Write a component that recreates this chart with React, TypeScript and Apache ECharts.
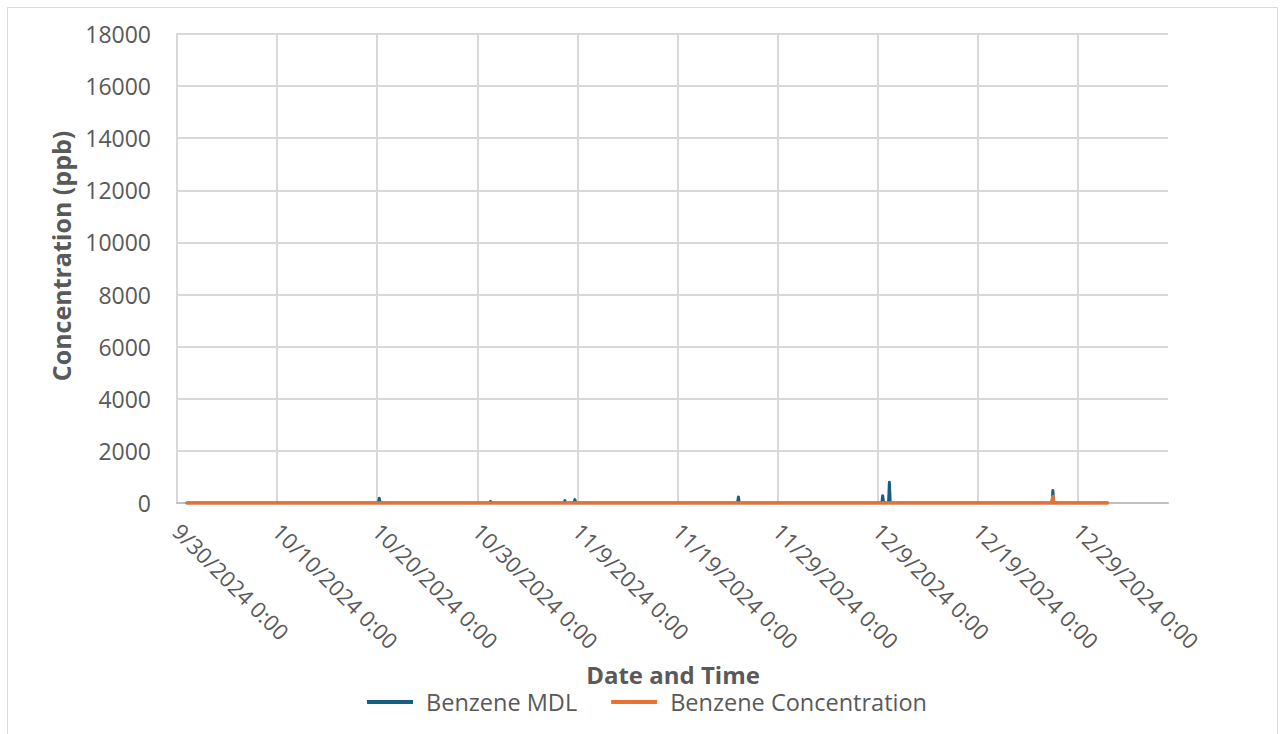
import React, { useEffect, useRef } from "react";
import * as echarts from "echarts";

// Axis origin: day offsets on the x axis are counted from 9/30/2024 0:00
const ORIGIN = "2024-09-30 00:00";
const X_MAX_DAYS = 99;
const X_STEP_DAYS = 10;
const Y_MAX = 18000;
const Y_STEP = 2000;

// Benzene MDL (ppb)
const mdlTimes = [
  "2024-10-01 00:00", "2024-10-20 03:00", "2024-10-20 05:00", "2024-10-20 07:00",
  "2024-10-31 06:00", "2024-10-31 08:00", "2024-10-31 10:00",
  "2024-11-07 16:00", "2024-11-07 18:00", "2024-11-07 20:00",
  "2024-11-08 16:00", "2024-11-08 18:00", "2024-11-08 20:00",
  "2024-11-25 00:00", "2024-11-25 02:00", "2024-11-25 04:00",
  "2024-12-09 10:00", "2024-12-09 12:00", "2024-12-09 14:00",
  "2024-12-10 02:00", "2024-12-10 04:00", "2024-12-10 06:00",
  "2024-12-26 10:00", "2024-12-26 12:00", "2024-12-26 14:00",
  "2024-12-31 23:00",
];
const mdlValues = [
  3, 3, 180, 3,
  3, 60, 3,
  3, 90, 3,
  3, 130, 3,
  3, 230, 3,
  3, 280, 3,
  3, 800, 3,
  3, 480, 3,
  3,
];

// Benzene Concentration (ppb)
const concTimes = [
  "2024-10-01 00:00", "2024-12-26 10:00", "2024-12-26 12:00", "2024-12-26 14:00",
  "2024-12-31 23:00",
];
const concValues = [0, 0, 250, 0, 0];

const seriesNames = ["Benzene MDL", "Benzene Concentration"];
const seriesColors = ["#156082", "#E97132"];

const xTitle = "Date and Time";
const yTitle = "Concentration (ppb)";

const toUtc = (s: string) => Date.parse(s.replace(" ", "T") + ":00Z");
const toDays = (s: string) => (toUtc(s) - toUtc(ORIGIN)) / 86400000;

const dayLabel = (d: number) => {
  const dt = new Date(toUtc(ORIGIN) + d * 86400000);
  return `${dt.getUTCMonth() + 1}/${dt.getUTCDate()}/${dt.getUTCFullYear()} 0:00`;
};

const FONT = "'Open Sans', sans-serif";
const GRAY_TEXT = "#595959";

export default function App() {
  const ref = useRef<HTMLDivElement>(null);

  useEffect(() => {
    if (!ref.current) return;
    const chart = echarts.init(ref.current, undefined, { renderer: "svg" });

    const mdlData = mdlTimes.map((t, i) => [toDays(t), mdlValues[i]]);
    const concData = concTimes.map((t, i) => [toDays(t), concValues[i]]);

    chart.setOption({
      animation: false,
      backgroundColor: "#ffffff",
      textStyle: { fontFamily: FONT },
      graphic: [
        {
          type: "rect",
          shape: { x: 7.5, y: 7.5, width: 1270, height: 740 },
          style: { fill: "none", stroke: "#d9d9d9", lineWidth: 1 },
          silent: true,
        },
        {
          type: "text",
          x: 61,
          y: 256,
          rotation: Math.PI / 2,
          style: {
            text: yTitle,
            fontFamily: FONT,
            fontSize: 25,
            fontWeight: "bold",
            fill: GRAY_TEXT,
            align: "center",
            verticalAlign: "middle",
          },
          silent: true,
        },
        {
          type: "text",
          x: 673,
          y: 674,
          style: {
            text: xTitle,
            fontFamily: FONT,
            fontSize: 24,
            fontWeight: "bold",
            fill: GRAY_TEXT,
            align: "center",
            verticalAlign: "middle",
            lineHeight: 20,
          },
          silent: true,
        },
      ],
      grid: { left: 177, right: 112, top: 34, bottom: 231, containLabel: false },
      legend: {
        left: 362,
        top: 685,
        itemWidth: 46,
        itemHeight: 4,
        itemGap: 34,
        icon: "rect",
        textStyle: {
          fontFamily: FONT,
          fontSize: 23.5,
          lineHeight: 20,
          color: GRAY_TEXT,
          padding: [0, 0, 0, 8],
        },
        data: seriesNames,
      },
      xAxis: {
        type: "value",
        min: 0,
        max: X_MAX_DAYS,
        interval: X_STEP_DAYS,
        axisLine: { show: true, lineStyle: { color: "#bfbfbf", width: 2 } },
        axisTick: { show: false },
        axisLabel: {
          rotate: -45,
          margin: 24,
          fontFamily: FONT,
          fontSize: 22,
          color: GRAY_TEXT,
          showMaxLabel: false,
          formatter: (v: number) => (v % X_STEP_DAYS === 0 ? dayLabel(v) : ""),
        },
        splitLine: {
          show: true,
          showMaxLine: false,
          lineStyle: { color: "#d9d9d9", width: 2 },
        },
      },
      yAxis: {
        type: "value",
        min: 0,
        max: Y_MAX,
        interval: Y_STEP,
        axisLine: { show: true, lineStyle: { color: "#d9d9d9", width: 2 } },
        axisTick: { show: false },
        axisLabel: {
          margin: 26,
          fontFamily: FONT,
          fontSize: 23,
          color: GRAY_TEXT,
          formatter: (v: number) => String(v),
        },
        splitLine: { show: true, lineStyle: { color: "#d9d9d9", width: 2 } },
      },
      series: [
        {
          name: seriesNames[0],
          type: "line",
          data: mdlData,
          symbol: "none",
          color: seriesColors[0],
          lineStyle: { color: seriesColors[0], width: 3, cap: "round", join: "round" },
          z: 3,
        },
        {
          name: seriesNames[1],
          type: "line",
          data: concData,
          symbol: "none",
          color: seriesColors[1],
          lineStyle: { color: seriesColors[1], width: 3.5, cap: "round", join: "round" },
          z: 4,
        },
      ],
    });

    return () => chart.dispose();
  }, []);

  return (
    <div
      ref={ref}
      style={{ position: "absolute", left: 0, top: 0, width: 1280, height: 734 }}
    />
  );
}
